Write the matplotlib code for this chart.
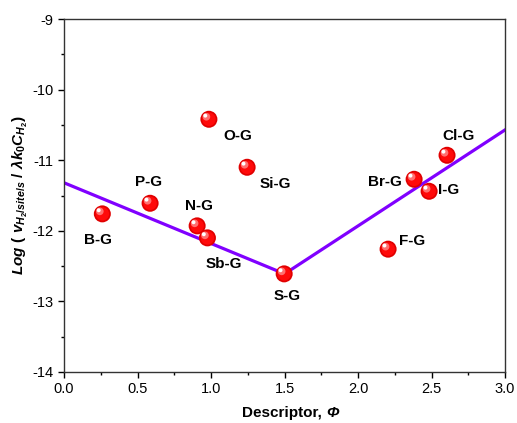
import matplotlib
matplotlib.use("Agg")
import matplotlib.pyplot as plt
from matplotlib.ticker import MultipleLocator
from matplotlib.transforms import offset_copy

plt.rcParams['font.family'] = ['Liberation Sans', 'DejaVu Sans']
plt.rcParams['mathtext.fontset'] = 'custom'
plt.rcParams['mathtext.rm'] = 'Liberation Sans:bold'
plt.rcParams['mathtext.it'] = 'Liberation Sans:italic:bold'
plt.rcParams['mathtext.bf'] = 'Liberation Sans:bold'
plt.rcParams['axes.unicode_minus'] = False

# Data
labels = ['B-G', 'P-G', 'N-G', 'Sb-G', 'O-G', 'Si-G', 'S-G', 'F-G', 'Br-G', 'I-G', 'Cl-G']
phi = [0.26, 0.585, 0.905, 0.975, 0.985, 1.245, 1.497, 2.204, 2.381, 2.483, 2.605]
logv = [-11.76, -11.61, -11.93, -12.10, -10.42, -11.10, -12.61, -12.26, -11.27, -11.44, -10.93]
# label offsets (points) relative to each sphere
lab_dx = [-3, -1, 1, 12, 21, 20, 2, 17, -21, 14, 8]
lab_dy = [-19, 15, 14, -19, -12, -12, -16, 6, -2, 1, 14]

fit_x = [0.0, 1.5, 3.0]
fit_y = [-11.32, -12.61, -10.57]

fig = plt.figure(figsize=(5.17, 4.23), dpi=100)
ax = fig.add_axes([0.124, 0.1206, 0.853, 0.8344])

ax.plot(fit_x, fit_y, color='#8000ff', lw=2.3, zorder=2)

# glossy spheres
ax.scatter(phi, logv, s=150, color='#e00000', edgecolors='none', zorder=3)
ax.scatter(phi, logv, s=95, color='#ff0a0a', edgecolors='none', zorder=4)
tr1 = offset_copy(ax.transData, fig=fig, x=-1.8, y=1.8, units='points')
ax.scatter(phi, logv, s=30, color='#ff7070', edgecolors='none', zorder=5, transform=tr1)
tr2 = offset_copy(ax.transData, fig=fig, x=-2.6, y=2.6, units='points')
ax.scatter(phi, logv, s=8, color='#ffffff', edgecolors='none', zorder=6, transform=tr2)

for lab, x, y, dx, dy in zip(labels, phi, logv, lab_dx, lab_dy):
    ax.annotate(lab, (x, y), xytext=(dx, dy), textcoords='offset points',
                ha='center', va='center', fontsize=11, fontweight='bold', zorder=7)

ax.set_xlim(0, 3.0)
ax.set_ylim(-14, -9)
ax.xaxis.set_major_locator(MultipleLocator(0.5))
ax.xaxis.set_minor_locator(MultipleLocator(0.25))
ax.yaxis.set_major_locator(MultipleLocator(1))
ax.yaxis.set_minor_locator(MultipleLocator(0.5))
ax.xaxis.set_major_formatter(matplotlib.ticker.FormatStrFormatter('%.1f'))
ax.tick_params(which='major', direction='out', length=4, width=1, labelsize=10.5, colors='black')
ax.tick_params(which='minor', direction='out', length=2, width=1)
ax.tick_params(top=False, right=False, which='both')
for sp in ax.spines.values():
    sp.set_linewidth(1.0)
    sp.set_color('#333333')

# x label: "Descriptor, " upright bold + italic bold Phi
xl_x, xl_y = 326 / 517, 1 - 413 / 423
fig.text(xl_x, xl_y, 'Descriptor, ', ha='right', va='center', fontsize=11, fontweight='bold')
fig.text(xl_x, xl_y, 'Φ', ha='left', va='center', fontsize=11, fontweight='bold', fontstyle='italic')
ax.set_ylabel(r'$Log\ (\ v_{H_2/site/s}\ /\ \lambda k_0 C_{H_2})$', fontsize=11, labelpad=2)

fig.savefig('out.png', dpi=100)
